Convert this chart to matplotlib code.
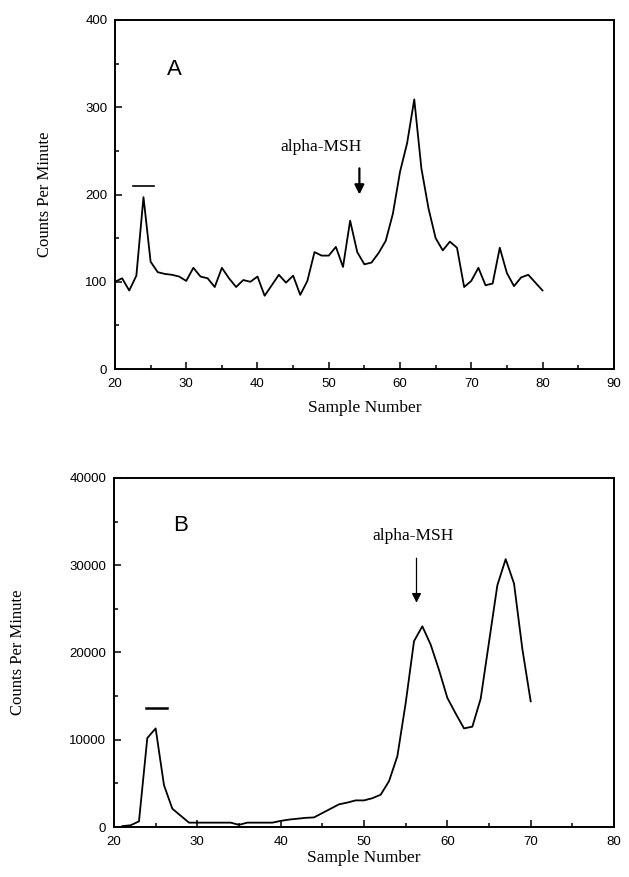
import numpy as np
import matplotlib.pyplot as plt
from matplotlib.ticker import MultipleLocator

# panel A: counts per sample, samples 20..80
samples_a = list(range(20, 81))
counts_a = [100, 104, 90, 107, 197, 123, 111, 109, 108, 106,
            101, 116, 106, 104, 94, 116, 104, 94, 102, 100,
            106, 84, 96, 108, 99, 107, 85, 101, 134, 130,
            130, 140, 117, 170, 134, 120, 122, 133, 147, 178,
            226, 259, 309, 230, 184, 150, 136, 146, 139, 94,
            101, 116, 96, 98, 139, 110, 95, 105, 108, 99, 90]

# panel B: counts per sample, samples 21..70
samples_b = list(range(21, 71))
counts_b = [100, 200, 650, 10200, 11300, 4800, 2100, 1300, 500, 500,
            500, 500, 500, 500, 250, 500, 500, 500, 500, 700,
            850, 950, 1050, 1100, 1600, 2100, 2600, 2800, 3050, 3050,
            3300, 3700, 5250, 8100, 14200, 21300, 23000, 20900, 18000, 14800,
            13000, 11300, 11500, 14700, 21200, 27700, 30700, 27900, 20400, 14400]

serif = ['Liberation Serif', 'DejaVu Serif']
sans = ['Liberation Sans', 'DejaVu Sans']

fig = plt.figure(figsize=(6.29, 8.77), dpi=100)
ax_a = fig.add_axes([0.1828, 0.5792, 0.793, 0.398])
ax_b = fig.add_axes([0.1812, 0.057, 0.795, 0.398])


def style_axes(ax, xmax, ymax, ymajor, yminor, ylab_x, xlab_y):
    ax.set_xlim(20, xmax)
    ax.set_ylim(0, ymax)
    ax.xaxis.set_major_locator(MultipleLocator(10))
    ax.xaxis.set_minor_locator(MultipleLocator(5))
    ax.yaxis.set_major_locator(MultipleLocator(ymajor))
    ax.yaxis.set_minor_locator(MultipleLocator(yminor))
    ax.tick_params(which='both', direction='in', width=1.1, labelsize=9.5)
    ax.tick_params(axis='x', pad=6.5)
    ax.tick_params(axis='y', pad=5.5)
    ax.tick_params(which='major', length=5)
    ax.tick_params(which='minor', length=3)
    for lab in ax.get_xticklabels() + ax.get_yticklabels():
        lab.set_family(sans)
    for sp in ax.spines.values():
        sp.set_linewidth(1.4)
    ax.set_xlabel('Sample Number', family=serif, fontsize=12.5)
    ax.set_ylabel('Counts Per Minute', family=serif, fontsize=12)
    ax.xaxis.set_label_coords(0.5, xlab_y)
    ax.yaxis.set_label_coords(ylab_x, 0.5)


# panel A
ax_a.plot(samples_a, counts_a, color='black', linewidth=1.3)
style_axes(ax_a, 90, 400, 100, 50, -0.125, -0.09)
ax_a.plot([22.5, 25.5], [210, 210], color='black', linewidth=1.2)
ax_a.annotate('', xy=(54.3, 200), xytext=(54.3, 230),
              arrowprops=dict(arrowstyle='-|>', color='black', lw=1.6,
                              mutation_scale=14, shrinkA=0, shrinkB=0))
ax_a.text(48.9, 255, 'alpha-MSH', family=serif, fontsize=12.5,
          ha='center', va='center')
ax_a.text(28.4, 343, 'A', family=sans, fontsize=16, ha='center', va='center')

# panel B
ax_b.plot(samples_b, counts_b, color='black', linewidth=1.3)
style_axes(ax_b, 80, 40000, 10000, 5000, -0.175, -0.066)
ax_b.plot([23.8, 26.4], [13600, 13600], color='black', linewidth=1.8)
ax_b.annotate('', xy=(56.3, 25700), xytext=(56.3, 30800),
              arrowprops=dict(arrowstyle='-|>', color='black', lw=0.9,
                              mutation_scale=14, shrinkA=0, shrinkB=0))
ax_b.text(55.9, 33400, 'alpha-MSH', family=serif, fontsize=12.5,
          ha='center', va='center')
ax_b.text(28, 34600, 'B', family=sans, fontsize=16, ha='center', va='center')

fig.savefig('out.png', dpi=100)
